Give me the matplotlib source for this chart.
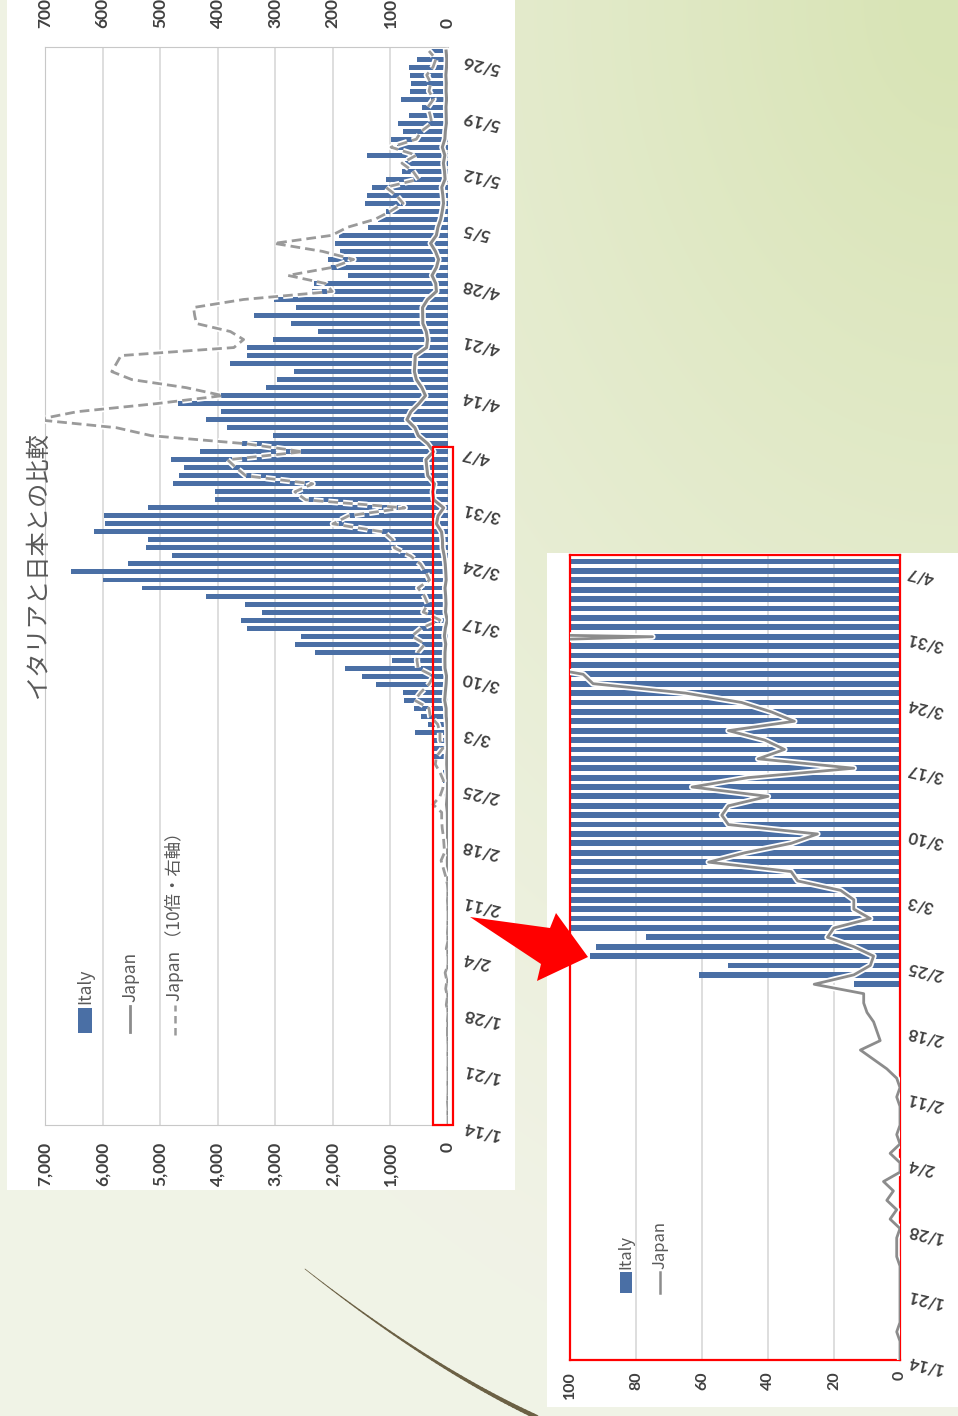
import matplotlib
matplotlib.use("Agg")
import matplotlib.pyplot as plt
import matplotlib.patheffects as pe
from matplotlib.patches import Rectangle, Polygon
from matplotlib.ticker import FixedLocator
import numpy as np
import pandas as pd

# daily new cases, 2020-01-14 .. 2020-05-27
dates = pd.date_range("2020-01-14", "2020-05-27")
date_labels = [f"{d.month}/{d.day}" for d in dates]

# Italy, from 2/23 (earlier days are zero)
italy_start = "2020-02-23"
italy_vals = [
    14, 61, 52, 94, 92, 77, 250,
    238, 240, 566, 342, 466, 587, 769, 778, 1247, 1492, 1797, 977, 2313, 2651,
    2547, 3497, 3590, 3233, 3526, 4207, 5322, 5986, 6557, 5560, 4789, 5249,
    5210, 6153, 5959, 5974, 5217,
    4050, 4053, 4782, 4668, 4585, 4805, 4316, 3599, 3039, 3836, 4204, 3951,
    4694, 4092, 3153, 2972, 2667, 3786, 3493, 3491, 3047, 2256, 2729, 3370,
    2646, 3021, 2357, 2324, 1739, 2091,
    2086, 1872, 1965, 1900, 1389, 1221, 1075, 1444, 1401, 1327, 1083, 802,
    744, 1402, 888, 992, 789, 875, 675, 451, 813, 665, 642, 652, 669, 531, 300,
]

# Japan, full range
japan = [
    0, 0, 0, 1, 0, 0, 0, 0, 0, 0, 0, 1, 1, 1, 0, 3, 1, 4,
    2, 5, 0, 0, 3, 0, 1, 0, 0, 0, 1, 0, 1, 4, 8, 12, 6, 7, 8, 10, 11, 11,
    26, 14, 9, 8, 14, 22, 20,
    9, 14, 14, 18, 31, 33, 58, 47, 33, 25, 52, 54, 52, 40, 63, 46, 14, 43,
    35, 41, 52, 32, 39, 48, 65, 93, 96, 112, 200, 173, 75,
    247, 266, 235, 351, 368, 383, 252, 351, 515, 576, 714, 644, 507, 391,
    455, 549, 584, 576, 568, 372, 355, 378, 437, 440, 442, 355, 201, 213,
    278, 201,
    164, 218, 302, 202, 175, 127, 100, 78, 90, 108, 51, 61, 80, 55, 99, 55,
    46, 28, 31, 35, 25, 33, 30, 37, 26, 21, 33,
]

italy = np.zeros(len(dates))
k0 = dates.get_loc(pd.Timestamp(italy_start))
italy[k0:k0 + len(italy_vals)] = italy_vals
japan = np.array(japan, dtype=float)

italy_ticks = list(range(0, 7001, 1000))
japan_ticks = list(range(0, 701, 100))
inset_ticks = list(range(0, 101, 20))
inset_end = "2020-04-07"

BAR = "#4a6fa5"
GRID = "#d4d4d4"
TXT = "#404040"
LEG = "#595959"
JP_SOLID = "#8c8c8c"
JP_DASH = "#9a9a9a"
LATIN = ["Lato", "DejaVu Sans"]
CJK = ["Noto Sans CJK JP", "DejaVu Sans"]

W, H = 958, 1416


def box(x0, y0, x1, y1):
    # pixel box (top-left origin) -> figure fraction rect
    return [x0 / W, 1 - y1 / H, (x1 - x0) / W, (y1 - y0) / H]


fig = plt.figure(figsize=(W / 100, H / 100), dpi=100)

# slide background
bg = fig.add_axes([0, 0, 1, 1], zorder=0)
yy, xx = np.mgrid[0:H:4, 0:W:4]
d = np.sqrt(((W - xx) / W) ** 2 * 0.9 + (yy / H) ** 2 * 1.1)
t = np.clip(1.05 - d, 0, 1) ** 1.2
light = np.array([0.945, 0.953, 0.905])
dark = np.array([0.850, 0.895, 0.715])
img = light + (dark - light) * t[..., None]
bg.imshow(img, extent=[0, W, H, 0], aspect="auto", interpolation="bilinear")
bg.set_xlim(0, W)
bg.set_ylim(H, 0)
bg.axis("off")
bg.add_patch(Rectangle((7, 0), 508, 1190, color="white", lw=0))
bg.add_patch(Rectangle((547, 553), 411, 854, color="white", lw=0))

halo = [pe.Stroke(linewidth=4.5, foreground="white"), pe.Normal()]
pos = np.arange(len(dates))
tick_pos = pos[::7]
tick_lab = date_labels[::7]

# ---- main chart (turned on its side) ----
ax = fig.add_axes(box(45, 47, 448, 1125), zorder=2)
ax.set_facecolor("none")
ax.barh(pos, italy, height=0.62, color=BAR, zorder=2)
ax.plot(japan, pos, color=JP_SOLID, lw=2.2, zorder=3, path_effects=halo)
ax.set_xlim(7000, 0)
ax.set_ylim(0, len(dates) - 0.5)
ax.xaxis.set_major_locator(FixedLocator(italy_ticks))
ax.set_xticklabels([f"{v:,}" for v in italy_ticks], rotation=90,
                   fontsize=12.5, color=TXT, family=LATIN, fontweight="bold")
ax.grid(axis="x", color=GRID, lw=1.1, zorder=0)
ax.set_axisbelow(True)
ax.yaxis.tick_right()
ax.set_yticks(tick_pos)
ax.set_yticklabels(tick_lab, rotation=167, fontsize=12.5, color=TXT,
                   family=LATIN, fontweight="bold")
ax.tick_params(axis="x", length=0, pad=12)
ax.tick_params(axis="y", length=0, pad=9)
for s in ["left", "top", "bottom"]:
    ax.spines[s].set_color("#c8c8c8")
ax.spines["right"].set_visible(False)

# Japan again on the secondary (0-700) scale
ax2 = ax.twiny()
ax2.plot(japan, pos, color=JP_DASH, lw=2.0, ls=(0, (3.5, 1.8)), zorder=4,
         path_effects=halo)
ax2.set_xlim(700, 0)
ax2.xaxis.set_major_locator(FixedLocator(japan_ticks))
ax2.set_xticklabels([str(v) for v in japan_ticks], rotation=90,
                    fontsize=12.5, color=TXT, family=LATIN, fontweight="bold")
ax2.tick_params(axis="x", length=0, pad=14)
for s in ax2.spines.values():
    s.set_visible(False)

# ---- close-up of the start of the outbreak ----
n_in = dates.get_loc(pd.Timestamp(inset_end)) + 1
axi = fig.add_axes(box(570, 555, 900, 1360), zorder=3)
axi.set_facecolor("none")
axi.barh(pos[:n_in + 2], italy[:n_in + 2], height=0.62, color=BAR, zorder=2)
axi.plot(japan[:n_in + 2], pos[:n_in + 2], color=JP_SOLID, lw=2.0, zorder=3,
         path_effects=halo)
axi.set_xlim(100, 0)
axi.set_ylim(0, n_in + 0.7)
axi.xaxis.set_major_locator(FixedLocator(inset_ticks))
axi.set_xticklabels([str(v) for v in inset_ticks], rotation=90, fontsize=11.5,
                    color=TXT, family=LATIN, fontweight="bold")
axi.grid(axis="x", color=GRID, lw=1.1, zorder=0)
axi.set_axisbelow(True)
axi.yaxis.tick_right()
in_ticks = tick_pos[tick_pos < n_in]
axi.set_yticks(in_ticks)
axi.set_yticklabels(tick_lab[:len(in_ticks)], rotation=167, fontsize=12,
                    color=TXT, family=LATIN, fontweight="bold")
axi.tick_params(axis="x", length=0, pad=8)
axi.tick_params(axis="y", length=0, pad=4)
for s in axi.spines.values():
    s.set_color("red")
    s.set_linewidth(1.6)

# ---- overlay: title, legends, red marks ----
ov = fig.add_axes([0, 0, 1, 1], zorder=5)
ov.set_xlim(0, W)
ov.set_ylim(H, 0)
ov.axis("off")
ov.patch.set_alpha(0)

ov.text(38, 565, "イタリアと日本との比較", rotation=90, ha="center", va="center",
        fontsize=17.5, color=LEG, family=CJK)

# main legend
ov.add_patch(Rectangle((78, 1008), 14, 25, color=BAR, lw=0))
ov.text(85, 1004, "Italy", rotation=90, ha="center", va="bottom",
        fontsize=12.5, color=LEG, family=CJK)
ov.plot([130, 130], [1032, 1006], color=JP_SOLID, lw=2)
ov.text(130, 1002, "Japan", rotation=90, ha="center", va="bottom",
        fontsize=12.5, color=LEG, family=CJK)
ov.plot([175, 175], [1035, 1005], color=JP_DASH, lw=1.8, ls=(0, (3, 1.8)))
ov.text(175, 1001, "Japan （10倍・右軸）", rotation=90, ha="center", va="bottom",
        fontsize=12.5, color=LEG, family=CJK)

# inset legend
ov.add_patch(Rectangle((620, 1272), 12, 21, color=BAR, lw=0))
ov.text(626, 1269, "Italy", rotation=90, ha="center", va="bottom",
        fontsize=12, color=LEG, family=CJK)
ov.plot([660, 660], [1293, 1272], color=JP_SOLID, lw=1.8)
ov.text(660, 1269, "Japan", rotation=90, ha="center", va="bottom",
        fontsize=12, color=LEG, family=CJK)

# red frame around the early part of the main chart
ov.add_patch(Rectangle((433, 447), 20, 678, fill=False, ec="red", lw=1.6))

# arrow pointing to the close-up
ov.add_patch(Polygon([(470, 917), (550, 928), (556, 913), (588, 957),
                      (537, 981), (541, 964)], closed=True, color="#ff0000",
                     lw=0))

# decorative swoosh at the bottom left
tt = np.linspace(0, 1, 60)
p0, c, p2 = np.array([305, 1269]), np.array([440, 1375]), np.array([552, 1424])
curve = ((1 - tt) ** 2)[:, None] * p0 + (2 * (1 - tt) * tt)[:, None] * c + (tt ** 2)[:, None] * p2
for i in range(len(tt) - 1):
    ov.plot(curve[i:i + 2, 0], curve[i:i + 2, 1], color="#6b6044",
            lw=0.5 + 3.0 * tt[i], solid_capstyle="round")

fig.savefig("out.png", dpi=100)
